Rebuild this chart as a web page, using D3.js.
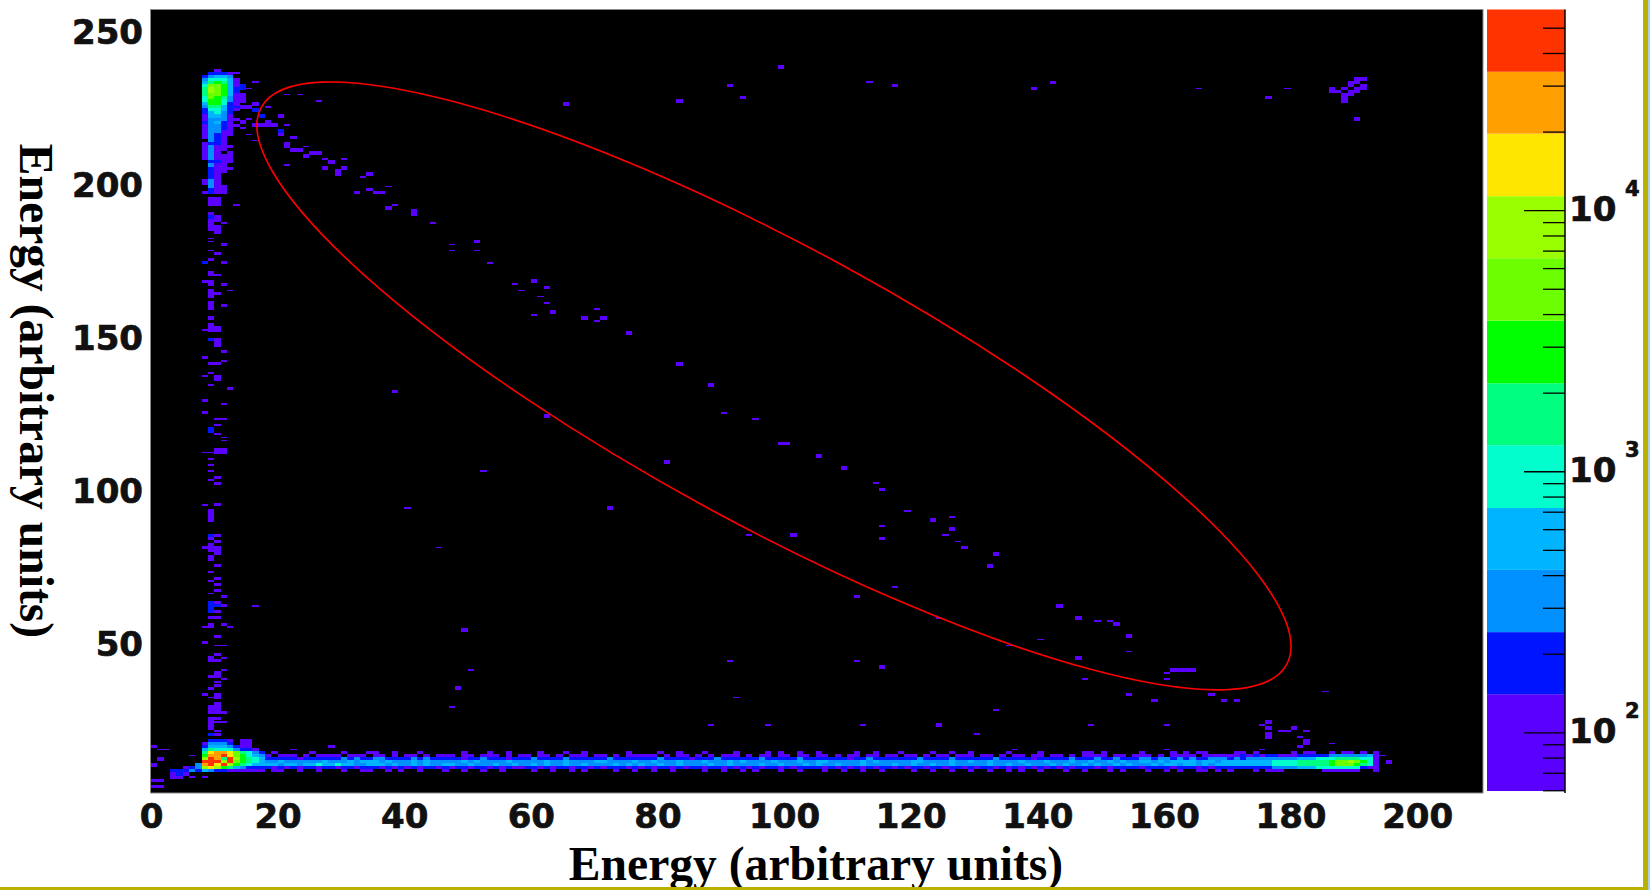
<!DOCTYPE html>
<html>
<head>
<meta charset="utf-8">
<script src="https://cdn.jsdelivr.net/npm/d3@7"></script>
<style>
html,body{margin:0;padding:0;background:#fff;overflow:hidden}
svg{display:block}
.tick text{font-family:"DejaVu Sans",sans-serif;font-weight:700;font-size:34px;fill:#111;stroke:#111;stroke-width:0.7px}
.title{font-family:"Liberation Serif",serif;font-weight:700;font-size:47.6px;fill:#000}
.zlab{font-family:"DejaVu Sans",sans-serif;font-weight:700;fill:#111;stroke:#111;stroke-width:0.7px}
</style>
</head>
<body>
<svg id="c" width="1650" height="890"></svg>
<script>
const xTicks = [0,20,40,60,80,100,120,140,160,180,200];
const yTicks = [50,100,150,200,250];
const titleText = "Energy (arbitrary units)";
const zMajor = [100,1000,10000];
const zMinor = [60,70,80,90,200,300,400,500,600,700,800,900,2000,3000,4000,5000,6000,7000,8000,9000,20000,30000,40000,50000];
const zEdges = [59.6,140,242,419,723,1258,2173,3773,6546,11313,19634,33900,58700];
const levelColors = ["#5a00ff","#0014ff","#0090ff","#00b4ff","#00ffcc","#00ff80","#00ff00","#6cff00","#99ff00","#ffe600","#ffa000","#ff3300"];

// isolated cells [energy x bin, energy y bin], lowest colour level
const scatterCells = [
[28,207],[27,205],[30,205],[29,203],[29,204],[34,203],[34,198],[32,197],[35,197],[36,197],[37,192],[41,190],[41,191],
[51,181],[60,168],[62,166],[63,158],[68,156],[71,156],[75,151],[83,141],[38,132],[88,134],[99,115],[100,115],[105,111],[109,107],
[115,100],[123,90],[126,87],[115,84],[128,81],[133,79],[132,75],[81,109],[101,85],
[143,62],[146,58],[152,56],[154,52],[146,45],[154,33],[158,31],[161,41],[162,41],[163,41],[164,41],[167,33],[169,31],[171,31],
[176,24],[176,22],[176,20],[176,19],[180,22],[182,18],[182,17],[181,16],[195,11],
[99,238],[91,232],[93,228],[83,227],[65,226],[117,232],[139,231],[142,233],[176,228],[190,221],
[186,231],[186,230],[187,230],[188,231],[188,229],[188,228],[188,227],[189,233],[189,232],[189,230],[189,229],[190,234],[190,233],[190,231],[190,230],[191,234],[191,232],[191,231],
[62,124],[72,94],[111,65],[115,42],[49,54],[48,35],[124,23],
[20,222],[18,220],[14,220],[16,219],[17,219],[18,219],[19,219],[20,216],[22,215],[21,213],[21,212],[22,211],[23,211],[24,209],[25,210],[26,210],
[14,229],[14,228],[14,227],[14,225],[13,226],[15,225],[16,226],[0,16],[1,12],[0,10],[28,16]
];
const blueCells = [[17,222],[14,232],[16,224],[20,217]];
const thinCells = [
[33,202],[38,193],[37,199],[44,187],[47,180],[47,178],[51,178],[53,174],[57,167],[58,165],[61,163],[62,161],[60,157],[70,159],[70,155],
[90,125],[95,123],[114,102],[119,93],[126,91],[115,88],[125,85],[127,83],[94,85],
[149,57],[151,57],[140,51],[135,49],[154,47],[147,38],[160,40],[160,38],[185,34],[175,23],[178,21],[179,21],[182,21],[181,19],[148,23],[160,23],[186,17],[194,13],
[26,227],[21,229],[23,229],[113,233],[165,231],[179,231],[14,218],[21,219],[15,216],[16,214],[24,212],[27,208],[30,208],[21,206],[13,193],[16,233],[13,236],[15,231],[18,225],[15,221],
[52,106],[40,94],[45,81],[117,68],[124,58],[111,44],[91,44],[50,41],[47,29],[92,32],[88,23],[97,23],[112,23],[130,20],[133,28],[16,62],
[9,182],[9,181],[11,187],[9,178],[9,170],[10,170],[12,165],[8,152],[11,142],[9,138],[8,137],[9,134],[11,128],[10,123],[11,123],[10,121],[11,117],[10,118],[11,116],[8,112],[9,112],[9,110],[9,108],[9,106],[9,103],[8,95],[9,73],[9,70],[9,66],[10,63],[8,55],[9,55],[12,55],[10,49],[11,49],[11,45],[11,41],[11,38],[9,32],[11,24],[10,24],[10,21],[10,37],
[1,15],[2,15],[6,13],[22,15],[6,6],[8,6],[136,15],[160,15],[175,15]
];

// vertical stem: [y bin, levels of columns 8..14]
const stemStart = 8;
const stemRows = [
[237,"0010000"],[236,"0222100"],[235,"2344300"],[234,"3555410"],[233,"4676410"],[232,"5887412"],[231,"6987422"],[230,"6987420"],[229,"6887411"],[228,"5876311"],
[227,"5775311"],[226,"4775210"],[225,"3664220"],[224,"2554210"],[223,"2453200"],[222,"1443100"],[221,"1333110"],[220,"2342100"],[219,"1332110"],[218,"1332100"],
[217,"1331100"],[216,"1321100"],[215,"1321000"],[214,"0321000"],[213,"1221000"],[212,"1311100"],[211,"1311000"],[210,"1310100"],[209,"1311100"],[208,"1311100"],
[207,"0221100"],[206,"0311000"],[205,"0211100"],[204,"0211000"],[203,"0210000"],[202,"0210000"],[201,"1310000"],[200,"1310000"],[199,"0311000"],[198,"0211000"],
[197,"1211000"],[195,"0110000"],[194,"0110000"],[193,"0110000"],[190,"0100000"],[189,"0210000"],[188,"0110000"],[187,"0100000"],[186,"0110000"],[185,"0110000"],
[184,"0010000"],[180,"0001000"],[177,"0010000"],[175,"0100000"],[174,"2001000"],[171,"0100000"],[168,"1100000"],[167,"0101000"],[165,"0100000"],[164,"0110000"],
[163,"0100000"],[161,"0100000"],[160,"0101000"],[159,"0100000"],[156,"0100000"],[154,"0100000"],[153,"0110000"],[152,"0110000"],[149,"0210000"],[148,"0010000"],
[147,"0010000"],[145,"0001000"],[143,"1000000"],[141,"0110000"],[137,"0010000"],[136,"0010000"],[133,"0000100"],[129,"1000000"],[125,"1000000"],[120,"0200000"],
[119,"0200000"],[113,"0011000"],[112,"0011000"],[104,"0010000"],[102,"0010000"],[95,"0010000"],[93,"0100000"],[92,"0100000"],[91,"0100000"],[90,"0100000"],
[85,"0210000"],[84,"0100000"],[83,"0010000"],[82,"0100000"],[81,"1110000"],[80,"0110000"],[79,"0010000"],[78,"0100000"],[77,"0100000"],[75,"0010000"],
[71,"0010000"],[69,"0010000"],[67,"0010000"],[65,"0001000"],[63,"0210000"],[62,"0221000"],[61,"0200000"],[60,"0210000"],[58,"0110000"],[56,"0101000"],
[52,"0010000"],[50,"1000000"],[46,"0010000"],[45,"0100000"],[44,"0110000"],[40,"0010000"],[39,"0110000"],[36,"0010000"],[35,"0100000"],[33,"1010000"],
[32,"0010000"],[30,"0010000"],[29,"0110000"],[28,"0110000"],[27,"0111000"],[25,"0110000"],[22,"0100000"]
];

// bright spot near the origin: [y bin, first column, hex colour levels]
const spotRows = [
[24,9,"1"],[23,9,"1"],[20,9,"21"],[18,9,"2221011"],[17,8,"13332011"],[16,8,"24443211"],[15,8,"465553221"],
[14,8,"6abba86532"],[13,8,"7bbca87543"],[12,8,"9cb6c97654"],[11,8,"ccc9c87654"],[10,7,"3bcac976544"],
[9,5,"1239a97643222"],[8,3,"222324322111111"],[7,3,"121"],[6,3,"11"],[5,0,"11"],[3,0,"11"]
];

// horizontal strip: levels of columns 18.. in each y bin
const stripStart = 18;
const stripRow14 = "0100000100 0010001100 1000100000 0100010010 0001000100 1000000100 0010010001 0000100001 0100100100 0001001000 1000010010 0100000100 0010000001 1010000010 0001010110 0001101000 0010110010 110101";
const stripRow13 = "1011101011 1101110110 1011010111 0110111010 1101101011 1011010111 1101011010 1011101011 0110110110 1011011011 0110101101 1101101011 0110110101 1110110111 0101111011 1111212122 1112222233 333341";
const stripRow12 = "2222212222 2232322332 2223232222 2122322212 2232222322 2222322222 2232222122 2322222232 2222322222 2212232222 2223222232 2222232222 2122222322 2322322233 2332323223 3323233333 3334445556 666551";
const stripRow11 = "3343333334 3334344434 3334343333 3434333343 3333433433 3344333343 3433343334 3334343333 4333433443 3333434333 3344333343 3433433334 3334333433 4334343344 3434444344 3444444445 5556666678 898751";
const stripRow10 = "4434434454 4544334443 4334343344 3343334334 3343433433 4333343434 3343343333 4334333343 3433343433 4333433334 3343343343 3333433433 4333434334 3433434333 4344344343 4444444445 5556666678 887651";
const stripRow9  = "2121212212 2122122212 1212122121 2212212121 1221212212 2121222121 2122121221 2212121212 2121222212 1212121221 2122122122 1212212121 2121212122 2121222212 2221222121 2222222223 3334445555 555211";
const stripRow8  = "0110010010 0010011001 0100100010 0100100100 0010010010 1000010010 0100100001 0010010100 0100100010 0100100100 0010010010 0100100101 0010001001 0001010001 0010100110 1010001011 1000000111 111001";
const stripRows = [[14,stripRow14],[13,stripRow13],[12,stripRow12],[11,stripRow11],[10,stripRow10],[9,stripRow9],[8,stripRow8]];

// annotation ellipse, in energy units for its centre and in pixels for its radii
const ellipseCentre = [98.4,134.3];
const ellipseRadii = [583.5,138.8];
const ellipseAngle = 28.5;

const svg = d3.select("#c");
const x = d3.scaleLinear().domain([0,210.4]).range([151,1483]);
const y = d3.scaleLinear().domain([1.3,257.3]).range([793,9.5]);
const z = d3.scaleLog().domain([59.6,58700]).range([791,9.5]);
const colour = d3.scaleOrdinal().domain(d3.range(1,13)).range(levelColors);

const defs = svg.append("defs");
defs.append("filter").attr("id","soft").attr("x","-2%").attr("y","-2%").attr("width","104%").attr("height","104%")
  .append("feGaussianBlur").attr("stdDeviation",0.65);
defs.append("clipPath").attr("id","plotClip").append("rect")
  .attr("x",x(0)).attr("y",y(257.3)).attr("width",x(210.4)-x(0)).attr("height",y(1.3)-y(257.3));

svg.append("rect").attr("x",x(0)-0.5).attr("y",y(257.3)).attr("width",x(210.4)-x(0)+0.5).attr("height",y(1.3)-y(257.3))
  .attr("fill","#000").attr("stroke","#8a8a8a").attr("stroke-width",1);

const cells = [];
const addString = (row, start, s) => {
  Array.from(s.replace(/ /g,"")).forEach((ch,i) => {
    const level = parseInt(ch,16);
    if (level > 0) cells.push({col:start+i,row,level,h:1,pad:0});
  });
};
stripRows.forEach(([r,s]) => addString(r,stripStart,s));
stemRows.forEach(([r,s]) => addString(r,stemStart,s));
spotRows.forEach(([r,c,s]) => addString(r,c,s));
scatterCells.forEach(([c,r]) => cells.push({col:c,row:r,level:1,h:1.2,pad:0.1}));
blueCells.forEach(([c,r]) => cells.push({col:c,row:r,level:2,h:1.2,pad:0.1}));
thinCells.forEach(([c,r]) => cells.push({col:c,row:r,level:1,h:0.55,pad:-0.22}));

const heat = svg.append("g").attr("clip-path","url(#plotClip)").append("g").attr("filter","url(#soft)");
heat.selectAll("rect").data(cells).join("rect")
  .attr("x",d => x(d.col))
  .attr("y",d => y(d.row+1+d.pad))
  .attr("width",d => x(d.col+1)-x(d.col))
  .attr("height",d => y(0)-y(d.h))
  .attr("fill",d => colour(d.level))
  .attr("shape-rendering","crispEdges");

svg.append("ellipse")
  .attr("rx",ellipseRadii[0]).attr("ry",ellipseRadii[1])
  .attr("transform",`translate(${x(ellipseCentre[0])},${y(ellipseCentre[1])}) rotate(${ellipseAngle})`)
  .attr("fill","none").attr("stroke","#ff0000").attr("stroke-width",1.6);

const xAxis = svg.append("g").attr("transform","translate(0,793)")
  .call(d3.axisBottom(x).tickValues(xTicks).tickSize(0).tickPadding(11));
xAxis.select(".domain").remove();
const yAxis = svg.append("g").attr("transform","translate(151,0)")
  .call(d3.axisLeft(y).tickValues(yTicks).tickSize(0).tickPadding(8));
yAxis.select(".domain").remove();
yAxis.selectAll("text").attr("dy","0.34em");

svg.append("text").attr("class","title").attr("text-anchor","middle")
  .attr("x",816).attr("y",879.5).text(titleText);
svg.append("text").attr("class","title").attr("text-anchor","middle")
  .attr("transform","translate(20,391) rotate(90)").text(titleText);

// colour bar
const bar = svg.append("g");
bar.selectAll("rect").data(levelColors).join("rect")
  .attr("x",1487).attr("width",78)
  .attr("y",(d,i) => z(zEdges[i+1]))
  .attr("height",(d,i) => z(zEdges[i])-z(zEdges[i+1]))
  .attr("fill",d => d);
const minorAxis = svg.append("g").attr("transform","translate(1565,0)")
  .call(d3.axisLeft(z).tickValues(zMinor).tickSize(22).tickFormat(""));
const majorAxis = svg.append("g").attr("transform","translate(1565,0)")
  .call(d3.axisLeft(z).tickValues(zMajor).tickSize(41).tickFormat(""));
minorAxis.select(".domain").remove();
majorAxis.select(".domain").remove();
svg.selectAll(".tick line").attr("stroke","#000").attr("stroke-width",1.3);
svg.append("line").attr("x1",1565).attr("x2",1565).attr("y1",z(58700)).attr("y2",793)
  .attr("stroke","#000").attr("stroke-width",1.5);
zMajor.forEach(v => {
  svg.append("text").attr("class","zlab").attr("font-size",34).attr("x",1569).attr("y",z(v)+11).text("10");
  svg.append("text").attr("class","zlab").attr("font-size",21).attr("x",1625).attr("y",z(v)-14).text(String(Math.round(Math.log10(v))));
});

// page frame
svg.append("rect").attr("x",1648).attr("y",0).attr("width",2).attr("height",890).attr("fill","#a8d2ea");
svg.append("rect").attr("x",1643).attr("y",0).attr("width",5).attr("height",890).attr("fill","#b9b000");
svg.append("rect").attr("x",0).attr("y",887).attr("width",1648).attr("height",3).attr("fill","#b9b000");
</script>
</body>
</html>
